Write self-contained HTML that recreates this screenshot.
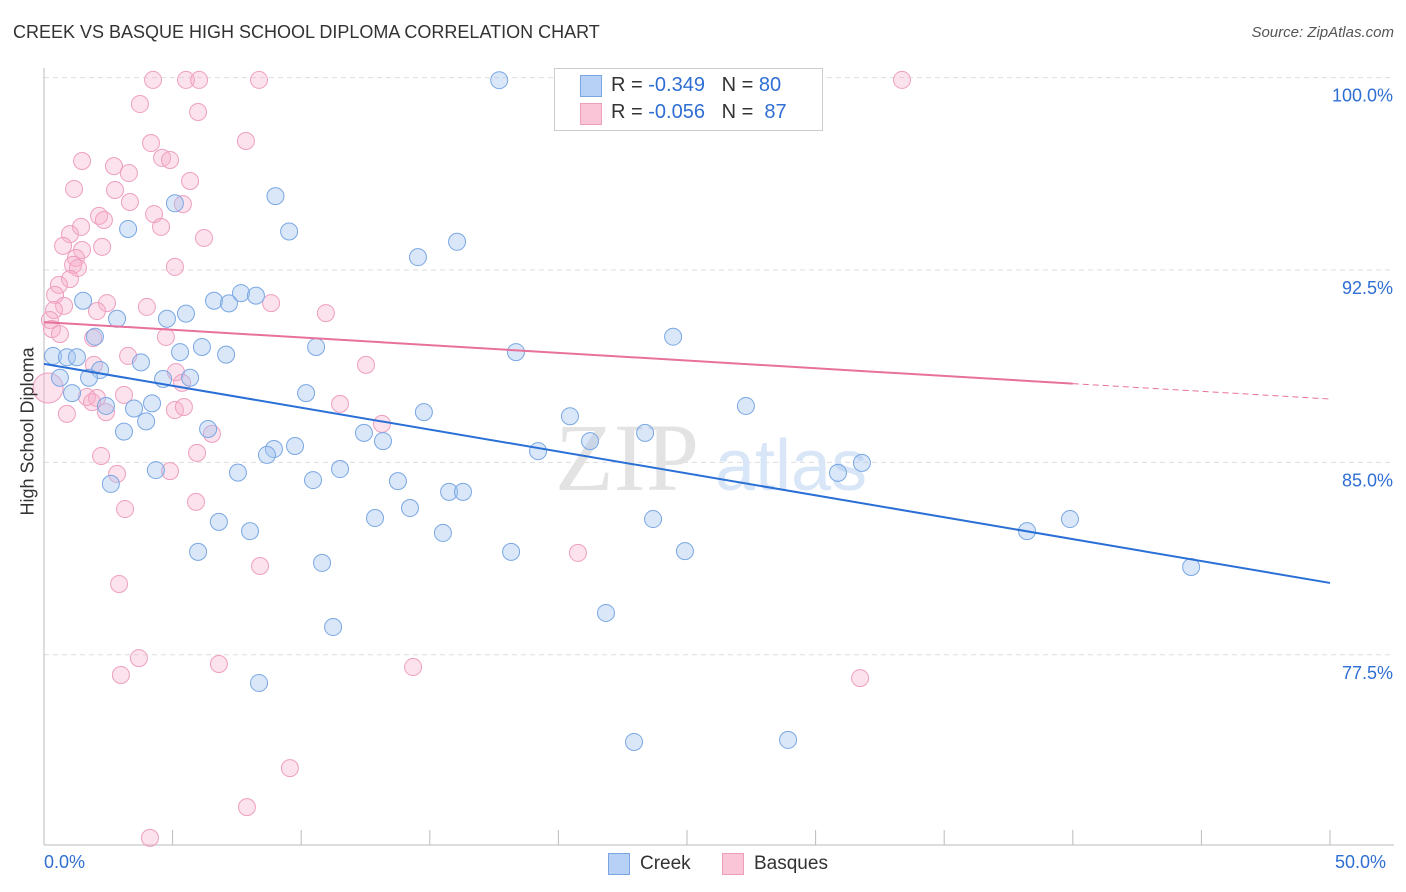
<!DOCTYPE html>
<html><head><meta charset="utf-8"><style>
body{margin:0;background:#fff;font-family:"Liberation Sans",sans-serif;}
#wrap{position:relative;width:1406px;height:892px;overflow:hidden;}
.t{position:absolute;white-space:nowrap;}
</style></head><body>
<div id="wrap">
<div class="t" style="left:13px;top:22px;font-size:18px;color:#333;">CREEK VS BASQUE HIGH SCHOOL DIPLOMA CORRELATION CHART</div>
<div class="t" style="right:12px;top:24px;font-size:15px;color:#555;font-style:italic;">Source: ZipAtlas.com</div>
<svg id="svg" width="1406" height="892" style="position:absolute;left:0;top:0;"></svg>
<div class="t" style="left:554px;top:68px;width:267px;height:61px;border:1px solid #ccc;background:#fff;"></div>
<div class="t" style="left:580px;top:75px;width:20px;height:20px;background:#b6d1f5;border:1px solid #7aa7e3;"></div>
<div class="t" style="left:580px;top:103px;width:20px;height:20px;background:#f9c5d7;border:1px solid #ee9fbf;"></div>
<div class="t" style="left:611px;top:74px;font-size:20px;color:#333;">R = <span style="color:#2f6fd4">-0.349</span>&nbsp;&nbsp;&nbsp;N = <span style="color:#2f6fd4">80</span></div>
<div class="t" style="left:611px;top:101px;font-size:20px;color:#333;">R = <span style="color:#2f6fd4">-0.056</span>&nbsp;&nbsp;&nbsp;N = <span style="color:#2f6fd4">&nbsp;87</span></div>
<div class="t" style="left:-32px;top:445px;font-size:18px;color:#333;transform:rotate(-90deg);width:120px;text-align:center;">High School Diploma</div>
<div class="t" style="left:44px;top:852px;font-size:18px;color:#2f6fd4;">0.0%</div>
<div class="t" style="left:1335px;top:852px;font-size:18px;color:#2f6fd4;">50.0%</div>
<div class="t" style="left:608px;top:853px;width:20px;height:20px;background:#b6d1f5;border:1px solid #7aa7e3;"></div>
<div class="t" style="left:640px;top:853px;font-size:19px;color:#333;">Creek</div>
<div class="t" style="left:722px;top:853px;width:20px;height:20px;background:#f9c5d7;border:1px solid #ee9fbf;"></div>
<div class="t" style="left:754px;top:853px;font-size:19px;color:#333;">Basques</div>
</div>
<script>
const yTicks=[100,92.5,85,77.5];
const yTickLabels=["100.0%","92.5%","85.0%","77.5%"];
const xTicks=[0,5,10,15,20,25,30,35,40,45,50];
const creekX=[17.7,9.0,5.09,9.53,3.27,16.06,14.54,1.52,6.61,7.19,7.66,8.24,5.52,4.78,2.84,1.98,24.46,10.58,6.14,7.08,5.29,18.35,0.35,0.89,1.28,3.77,2.18,0.62,1.75,4.63,5.68,10.19,1.09,4.2,3.5,2.41,27.29,14.77,3.97,20.45,6.38,3.11,12.44,23.37,13.18,21.23,9.76,8.94,8.67,19.21,4.35,7.54,11.51,31.8,30.87,10.46,13.76,2.6,15.75,16.29,14.23,12.87,6.8,23.68,8.01,15.51,38.22,39.89,5.99,18.16,24.92,10.81,44.6,21.85,11.24,8.36,22.94,28.93];
const creekY=[99.9,95.38,95.1,94.0,94.1,93.6,93.0,91.3,91.3,91.2,91.6,91.5,90.8,90.6,90.6,89.9,89.9,89.5,89.5,89.2,89.3,89.3,89.15,89.1,89.1,88.9,88.6,88.3,88.3,88.25,88.3,87.7,87.7,87.3,87.1,87.2,87.2,86.96,86.6,86.8,86.3,86.2,86.15,86.15,85.83,85.83,85.64,85.52,85.29,85.44,84.7,84.6,84.74,84.98,84.59,84.31,84.27,84.16,83.85,83.85,83.22,82.83,82.68,82.79,82.32,82.25,82.32,82.79,81.51,81.51,81.54,81.08,80.92,79.13,78.58,76.4,74.1,74.18];
const basqX=[4.24,5.52,6.03,8.36,33.36,27.84,3.73,5.99,1.48,7.85,4.16,4.59,4.9,2.72,3.3,5.68,1.17,2.76,5.4,3.34,4.28,2.14,2.33,1.44,4.55,1.01,6.22,0.74,2.26,1.48,1.24,1.13,1.32,5.09,1.01,0.58,0.43,2.45,0.78,4.0,8.83,0.39,2.06,0.23,10.96,0.31,0.62,4.74,1.91,3.27,12.52,1.94,5.13,5.37,1.67,2.06,1.87,3.11,5.09,5.44,11.51,2.41,0.89,13.14,6.53,5.95,2.22,4.9,2.84,5.91,3.15,8.4,20.76,2.92,3.69,6.8,14.35,2.99,31.73,9.56,7.89,4.12,0.16];
const basqY=[99.91,99.91,99.91,99.91,99.91,99.91,98.97,98.66,96.75,97.53,97.45,96.87,96.79,96.55,96.28,95.97,95.66,95.62,95.07,95.15,94.68,94.61,94.45,94.18,94.18,93.9,93.75,93.44,93.4,93.28,92.97,92.7,92.58,92.62,92.15,91.92,91.53,91.21,91.1,91.06,91.21,90.94,90.9,90.55,90.82,90.2,90.0,89.89,89.85,89.15,88.8,88.8,88.52,88.1,87.55,87.51,87.35,87.63,87.04,87.16,87.28,86.96,86.89,86.5,86.11,85.37,85.25,84.66,84.55,83.46,83.18,80.96,81.47,80.26,77.37,77.14,77.02,76.71,76.59,73.08,71.56,70.36,87.9];
const creekLine=[88.84,80.3];
const basqLine=[90.47,87.47];
const basqSolidEnd=40;
const sx=v=>44+v*25.72;
const sy=v=>270+(92.5-v)*25.65;
const svg=document.getElementById('svg');
const NS='http://www.w3.org/2000/svg';
function mk(tag,attrs){const e=document.createElementNS(NS,tag);for(const k in attrs)e.setAttribute(k,attrs[k]);svg.appendChild(e);return e;}
yTicks.forEach((t,i)=>{
 const g=mk('line',{x1:44,x2:1394,y1:sy(t),y2:sy(t),stroke:'#ddd','stroke-dasharray':'5,4'});
 
 
 const tx=mk('text',{x:1393,y:sy(t)+24,'text-anchor':'end','font-size':18,fill:'#2f6fd4','font-family':'Liberation Sans'});
 tx.textContent=yTickLabels[i];
 
 
});
const ax=mk('line',{x1:44,x2:44,y1:68,y2:845,stroke:'#bbb'});


const bx=mk('line',{x1:44,x2:1394,y1:845,y2:845,stroke:'#bbb'});


xTicks.forEach(t=>{
 const l=mk('line',{x1:sx(t),x2:sx(t),y1:830,y2:845,stroke:'#bbb'});
 
 
});
const w1=mk('text',{x:555,y:490,'font-size':96,fill:'#e3e3e3','font-family':'Liberation Serif'});
w1.textContent='ZIP';


const w2=mk('text',{x:715,y:490,'font-size':72,fill:'#d8e6f7','font-family':'Liberation Sans'});
w2.textContent='atlas';


basqX.forEach((x,i)=>{
 const big=i===basqX.length-1;
 const c=mk('circle',{cx:sx(x),cy:sy(basqY[i]),r:big?15:8.5,fill:'rgba(246,172,200,0.35)',stroke:'#ee9fbf','stroke-width':1});
 
 
});
creekX.forEach((x,i)=>{
 const c=mk('circle',{cx:sx(x),cy:sy(creekY[i]),r:8.5,fill:'rgba(160,196,240,0.4)',stroke:'#7aa7e3','stroke-width':1});
 
 
});
const cl=mk('line',{x1:sx(0),y1:sy(creekLine[0]),x2:sx(50),y2:sy(creekLine[1]),stroke:'#2a6fd6','stroke-width':2});


const pm=basqLine[0]+(basqLine[1]-basqLine[0])*basqSolidEnd/50;
const pl=mk('line',{x1:sx(0),y1:sy(basqLine[0]),x2:sx(basqSolidEnd),y2:sy(pm),stroke:'#e8719c','stroke-width':2});


const pd=mk('line',{x1:sx(basqSolidEnd),y1:sy(pm),x2:sx(50),y2:sy(basqLine[1]),stroke:'#e8719c','stroke-width':1,'stroke-dasharray':'6,4'});


</script>
</body></html>
